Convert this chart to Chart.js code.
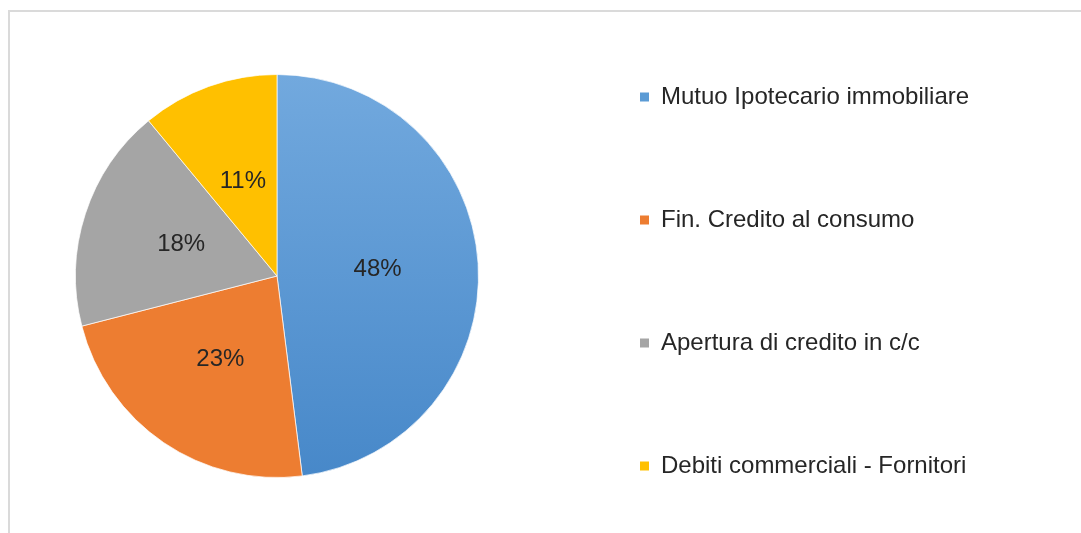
<!DOCTYPE html>
<html>
<head>
<meta charset="utf-8">
<script src="https://cdn.jsdelivr.net/npm/chart.js@4.4.0/dist/chart.umd.min.js"></script>
<style>
  html, body { margin: 0; padding: 0; background: #ffffff; overflow: hidden; }
  #wrap { position: relative; width: 1081px; height: 533px; overflow: hidden; }
  #frame { position: absolute; left: 8px; top: 10px; width: 1200px; height: 700px; border: 2px solid #dadada; box-sizing: border-box; }
  #c { position: absolute; left: -86px; top: 0; }
</style>
</head>
<body>
<div id="wrap">
  <div id="frame"></div>
  <canvas id="c" width="1167" height="533"></canvas>
</div>
<script>
const categories = [
  'Mutuo Ipotecario immobiliare',
  'Fin. Credito al consumo',
  'Apertura di credito in c/c',
  'Debiti commerciali - Fornitori'
];
const values = [48, 23, 18, 11];
const sliceColors = ['#5b9bd5', '#ed7d31', '#a5a5a5', '#ffc000'];
const blueGradientStops = ['#72a9de', '#4788c9'];

const FONT = '"Liberation Sans", Arial, sans-serif';
const TEXT_COLOR = '#262626';

const sliceLabels = {
  id: 'sliceLabels',
  afterDatasetsDraw(chart) {
    const ctx = chart.ctx;
    const meta = chart.getDatasetMeta(0);
    ctx.save();
    ctx.font = '24px ' + FONT;
    ctx.fillStyle = TEXT_COLOR;
    ctx.textAlign = 'center';
    ctx.textBaseline = 'middle';
    meta.data.forEach((el, i) => {
      const p = el.getCenterPoint();
      ctx.fillText(values[i] + '%', p.x, p.y);
    });
    ctx.restore();
  }
};

new Chart(document.getElementById('c'), {
  type: 'pie',
  data: {
    labels: categories,
    datasets: [{
      data: values,
      backgroundColor: (c) => {
        const i = c.dataIndex;
        const area = c.chart.chartArea;
        if (i === 0 && area) {
          const g = c.chart.ctx.createLinearGradient(0, area.top, 0, area.bottom);
          g.addColorStop(0, blueGradientStops[0]);
          g.addColorStop(1, blueGradientStops[1]);
          return g;
        }
        return sliceColors[i];
      },
      borderColor: 'rgba(255,255,255,0.7)',
      borderWidth: 1
    }]
  },
  options: {
    responsive: false,
    animation: false,
    layout: { padding: { left: 0, right: 111, top: 74, bottom: 55 } },
    plugins: {
      tooltip: { enabled: false },
      legend: {
        position: 'right',
        align: 'end',
        maxWidth: 330,
        labels: {
          padding: 0,
          boxWidth: 9,
          boxHeight: 9,
          color: TEXT_COLOR,
          font: { family: FONT, size: 24, lineHeight: '123px' },
          generateLabels(chart) {
            const items = Chart.overrides.pie.plugins.legend.labels.generateLabels(chart);
            return items.map((it, i) => Object.assign({}, it, {
              text: i < items.length - 1 ? [it.text] : it.text,
              fillStyle: sliceColors[i],
              strokeStyle: sliceColors[i],
              lineWidth: 0
            }));
          }
        }
      }
    }
  },
  plugins: [sliceLabels]
});
</script>
</body>
</html>
